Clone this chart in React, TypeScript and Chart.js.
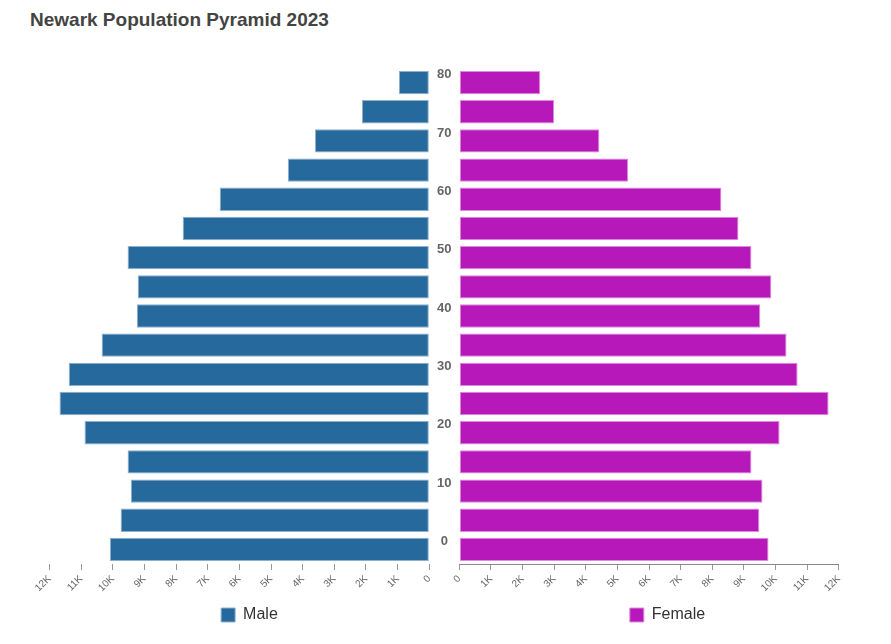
import { useEffect, useRef } from 'react';
import { Chart, registerables } from 'chart.js';

Chart.register(...registerables);

const ageGroups = ['0', '5', '10', '15', '20', '25', '30', '35', '40', '45', '50', '55', '60', '65', '70', '75', '80'];
const maleValues = [10090, 9750, 9430, 9530, 10890, 11680, 11390, 10350, 9240, 9210, 9530, 7790, 6620, 4470, 3610, 2130, 960];
const femaleValues = [9780, 9490, 9590, 9240, 10130, 11680, 10700, 10350, 9520, 9870, 9240, 8830, 8290, 5340, 4430, 3000, 2560];
const xTickLabels = ['0', '1K', '2K', '3K', '4K', '5K', '6K', '7K', '8K', '9K', '10K', '11K', '12K'];

const TITLE = 'Newark Population Pyramid 2023';
const MALE_COLOR = '#26699C';
const MALE_BORDER = '#8DB0CD';
const FEMALE_COLOR = '#B718B9';
const FEMALE_BORDER = '#DC8ADD';
const FONT = '"Liberation Sans", Arial, Helvetica, sans-serif';

Chart.defaults.font.family = FONT;

const xTickCallback = (v: any) => xTickLabels[Math.round(Number(v) / 1000)] ?? '';

function makeXScale(reverse: boolean, showBorder: boolean) {
  return {
    type: 'linear' as const,
    reverse,
    min: 0,
    max: 12000,
    ticks: {
      stepSize: 1000,
      autoSkip: false,
      minRotation: 45,
      maxRotation: 45,
      color: '#666',
      font: { size: 10 },
      padding: 3,
      callback: xTickCallback,
    },
    grid: {
      display: true,
      drawOnChartArea: false,
      drawTicks: true,
      tickLength: 6,
      color: '#999',
      lineWidth: 1,
    },
    border: { display: showBorder, color: '#888', width: 1 },
    afterFit: (s: any) => {
      s.height = 33;
    },
  };
}

const legendOpts = {
  position: 'bottom' as const,
  labels: {
    boxWidth: 14,
    boxHeight: 14,
    padding: 10,
    color: '#333',
    font: { size: 16 },
  },
};

export default function App() {
  const leftRef = useRef<HTMLCanvasElement>(null);
  const rightRef = useRef<HTMLCanvasElement>(null);

  useEffect(() => {
    const left = new Chart(leftRef.current as HTMLCanvasElement, {
      type: 'bar',
      data: {
        labels: ageGroups,
        datasets: [
          {
            label: 'Male',
            data: maleValues,
            backgroundColor: MALE_COLOR,
            borderColor: MALE_BORDER,
            borderWidth: 1,
            borderSkipped: false,
            categoryPercentage: 0.8,
            barPercentage: 1,
            yAxisID: 'y',
          },
        ],
      },
      options: {
        indexAxis: 'y',
        animation: false,
        responsive: false,
        layout: { padding: { left: 39.6, right: 10.7, top: 68, bottom: 11 } },
        scales: {
          x: makeXScale(true, false) as any,
          y: {
            type: 'category',
            position: 'right',
            reverse: true,
            grid: { display: false, drawTicks: false },
            border: { display: false },
            ticks: {
              autoSkip: false,
              crossAlign: 'center',
              padding: 7.8,
              labelOffset: -8,
              color: '#666',
              font: { size: 13, weight: 'bold' },
              callback: function (this: any, v: any) {
                const l = this.getLabelForValue(v);
                return Number(l) % 10 === 0 ? l : '';
              },
            },
            afterFit: (s: any) => {
              s.width = 30;
            },
          } as any,
          spacer: {
            type: 'category',
            axis: 'y',
            position: 'left',
            grid: { display: false, drawTicks: false },
            border: { display: false },
            ticks: { display: false },
            afterFit: (s: any) => {
              s.width = 9.8;
            },
          } as any,
        },
        plugins: {
          legend: legendOpts,
          tooltip: { enabled: false },
        },
      },
    });

    const right = new Chart(rightRef.current as HTMLCanvasElement, {
      type: 'bar',
      data: {
        labels: ageGroups,
        datasets: [
          {
            label: 'Female',
            data: femaleValues,
            backgroundColor: FEMALE_COLOR,
            borderColor: FEMALE_BORDER,
            borderWidth: 1,
            borderSkipped: false,
            categoryPercentage: 0.8,
            barPercentage: 1,
          },
        ],
      },
      options: {
        indexAxis: 'y',
        animation: false,
        responsive: false,
        layout: { padding: { left: 14.3, right: 15.3, top: 68, bottom: 11 } },
        scales: {
          x: makeXScale(false, true) as any,
          y: {
            type: 'category',
            position: 'right',
            reverse: true,
            grid: { display: false, drawTicks: false },
            border: { display: false },
            ticks: { display: false },
            afterFit: (s: any) => {
              s.width = 37;
            },
          } as any,
        },
        plugins: {
          legend: legendOpts,
          tooltip: { enabled: false },
        },
      },
    });

    return () => {
      left.destroy();
      right.destroy();
    };
  }, []);

  return (
    <div
      style={{
        position: 'absolute',
        left: 0,
        top: 0,
        width: 891,
        height: 644,
        background: '#fff',
        fontFamily: FONT,
        overflow: 'hidden',
      }}
    >
      <div
        style={{
          position: 'absolute',
          left: 30,
          top: 9,
          fontSize: 19,
          lineHeight: '22px',
          fontWeight: 'bold',
          color: '#444',
          whiteSpace: 'nowrap',
        }}
      >
        {TITLE}
      </div>
      <canvas
        ref={leftRef}
        width={470}
        height={644}
        style={{ position: 'absolute', left: 0, top: 0, width: 470, height: 644 }}
      />
      <canvas
        ref={rightRef}
        width={446}
        height={644}
        style={{ position: 'absolute', left: 445, top: 0, width: 446, height: 644 }}
      />
    </div>
  );
}
